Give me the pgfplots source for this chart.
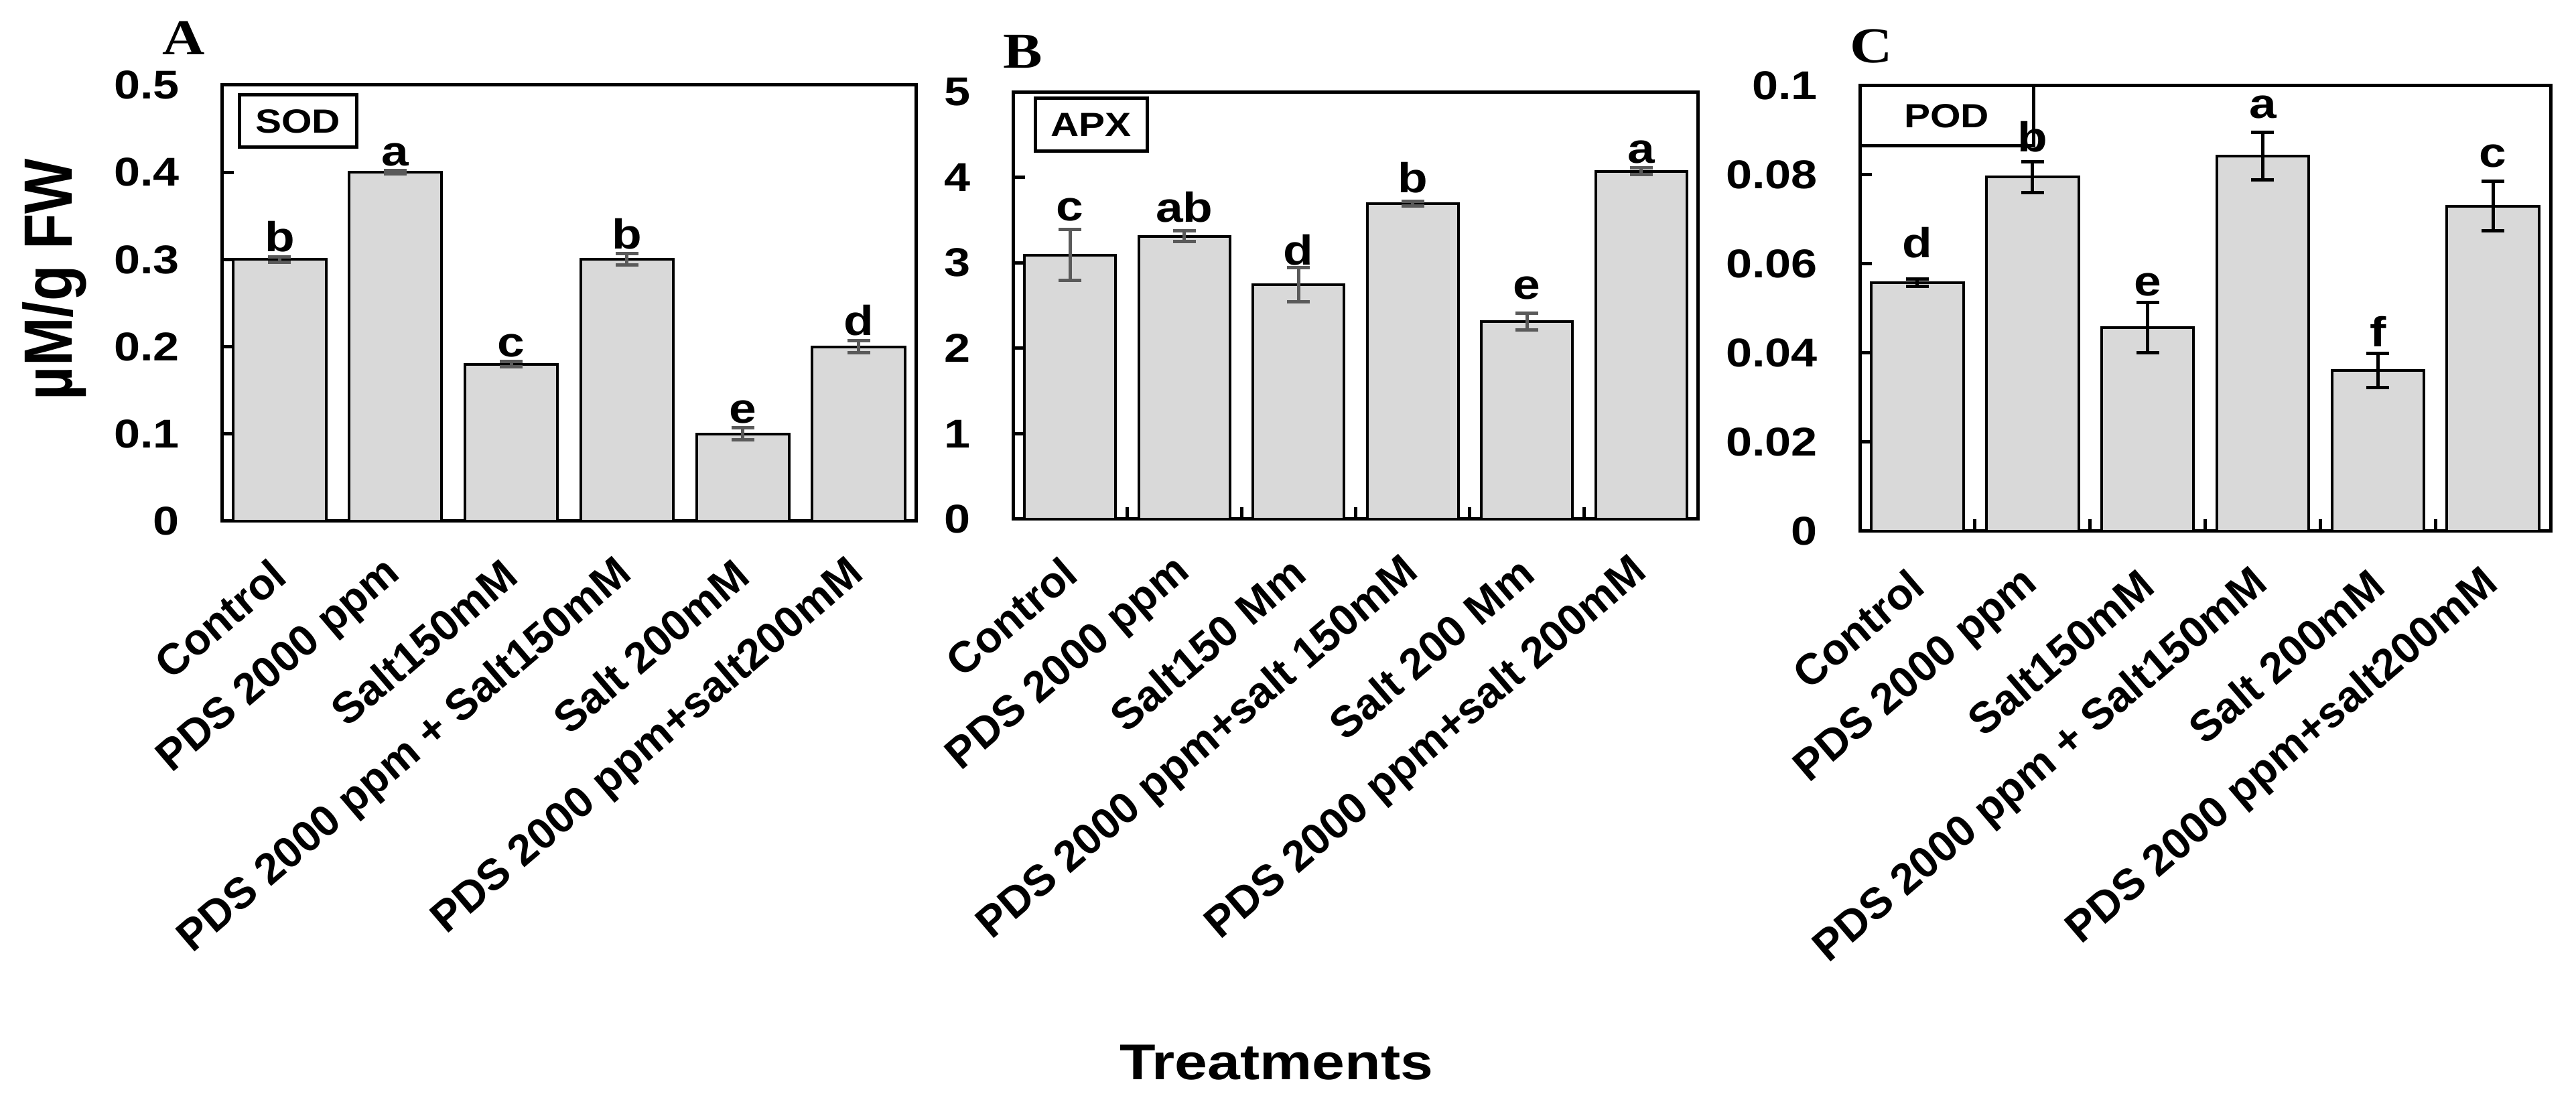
\documentclass[border=0pt]{standalone}
\usepackage{pgfplots}
\pgfplotsset{compat=1.18}
\usepackage{fontspec}
\setmainfont{Liberation Sans}[FakeStretch=1.17]
\newfontfamily\rotfont{Liberation Sans}
\newfontfamily\ylabfont{Liberation Sans}[FakeStretch=0.855]
\newfontfamily\letterfont{Liberation Serif}[FakeStretch=1.17]
\definecolor{barfill}{HTML}{D9D9D9}
\definecolor{errgray}{HTML}{5A5A5A}

\pgfplotsset{
  panel/.style={
    scale only axis,
    anchor=south west,
    clip=false,
    xmin=-0.5, xmax=5.5, ymin=0,
    axis line style={line width=1pt},
    tick align=inside,
    xtick pos=bottom, ytick pos=left,
    major tick length=3.6pt,
    tick style={line width=1pt, black},
    xtick={-0.5,0.5,1.5,2.5,3.5,4.5},
    yticklabel style={font=\bfseries\fontsize{12}{12}\selectfont, inner sep=0pt, xshift=-12.4pt, anchor=east},
    xticklabel style={xshift=17.2pt, yshift=-14pt, rotate=40.5, anchor=east, inner sep=0pt,
      font=\rotfont\bfseries\fontsize{13}{13}\selectfont},
  },
  bars/.style={ybar, bar width=0.8, bar shift=0pt, fill=barfill, draw=black, line width=0.8pt,
    error bars/.cd, y dir=both, y explicit,
    error bar style={line width=1pt, #1},
    error mark options={rotate=90, mark size=3.4pt, line width=1pt, #1}},
  letters/.style={draw=none, mark=none, point meta=explicit symbolic, nodes near coords,
    every node near coord/.append style={anchor=base, yshift=#1, inner sep=0pt, text=black,
      font=\bfseries\fontsize{12.5}{12.5}\selectfont}},
}

\begin{document}
\begin{tikzpicture}
\path[use as bounding box] (0pt,0pt) rectangle (769pt,328.4pt);

% Panel A
\begin{axis}[panel, at={(66.2pt,172.8pt)}, width=207.4pt, height=130.2pt,
  ymax=0.5, ytick={0,0.1,0.2,0.3,0.4,0.5}, yticklabels={0,0.1,0.2,0.3,0.4,0.5},
  xtick style={draw=none},
  xticklabels={Control, PDS 2000 ppm, Salt150mM, PDS 2000 ppm + Salt150mM, Salt 200mM, PDS 2000 ppm+salt200mM}]
\addplot[bars=errgray] coordinates {
  (0,0.300) +- (0,0.003)
  (1,0.400) +- (0,0.002)
  (2,0.180) +- (0,0.003)
  (3,0.300) +- (0,0.0065)
  (4,0.100) +- (0,0.007)
  (5,0.200) +- (0,0.007)
};
\addplot[letters=1.5pt] coordinates {
  (0,0.303) [b]
  (1,0.402) [a]
  (2,0.183) [c]
  (3,0.3065) [b]
  (4,0.107) [e]
  (5,0.207) [d]
};
\end{axis}

% Panel B
\begin{axis}[panel, at={(302.4pt,173.4pt)}, width=204.6pt, height=127.6pt,
  ymax=5, ytick={0,1,2,3,4,5}, yticklabels={0,1,2,3,4,5},
  xticklabels={Control, PDS 2000 ppm, Salt150 Mm, PDS 2000 ppm+salt 150mM, Salt 200 Mm, PDS 2000 ppm+salt 200mM}]
\addplot[bars=errgray] coordinates {
  (0,3.09) +- (0,0.30)
  (1,3.31) +- (0,0.06)
  (2,2.74) +- (0,0.20)
  (3,3.69) +- (0,0.03)
  (4,2.31) +- (0,0.10)
  (5,4.07) +- (0,0.04)
};
\addplot[letters=2.6pt] coordinates {
  (0,3.39) [c]
  (1,3.37) [ab]
  (2,2.87) [d]
  (3,3.72) [b]
  (4,2.47) [e]
  (5,4.06) [a]
};
\end{axis}

% Panel C
\begin{axis}[panel, at={(555.2pt,169.8pt)}, width=206.2pt, height=133pt,
  ymax=0.1, ytick={0,0.02,0.04,0.06,0.08,0.1}, yticklabels={0,0.02,0.04,0.06,0.08,0.1},
  xticklabels={Control, PDS 2000 ppm, Salt150mM, PDS 2000 ppm + Salt150mM, Salt 200mM, PDS 2000 ppm+salt200mM}]
\addplot[bars=black] coordinates {
  (0,0.0558) +- (0,0.0008)
  (1,0.0795) +- (0,0.0035)
  (2,0.0457) +- (0,0.0056)
  (3,0.0842) +- (0,0.0054)
  (4,0.0361) +- (0,0.0038)
  (5,0.0730) +- (0,0.0055)
};
\addplot[letters=3pt] coordinates {
  (0,0.0591) [d]
  (1,0.0830) [b]
  (2,0.0506) [e]
  (3,0.0905) [a]
  (4,0.0392) [f]
  (5,0.0794) [c]
};
\end{axis}

% Panel letters
\node[font=\letterfont\bfseries\fontsize{15}{15}\selectfont, inner sep=0pt] at (54.8pt,317pt) {A};
\node[font=\letterfont\bfseries\fontsize{15}{15}\selectfont, inner sep=0pt] at (305.4pt,313pt) {B};
\node[font=\letterfont\bfseries\fontsize{15}{15}\selectfont, inner sep=0pt] at (558.6pt,314.6pt) {C};

% Enzyme boxes
\node[draw, line width=1pt, minimum width=35pt, minimum height=15.6pt, inner sep=0pt,
  font=\bfseries\fontsize{10}{10}\selectfont] at (88.9pt,292.2pt) {SOD};
\node[draw, line width=1pt, minimum width=33.4pt, minimum height=15.8pt, inner sep=0pt,
  font=\bfseries\fontsize{10}{10}\selectfont] at (325.7pt,291.1pt) {APX};
\node[draw, line width=1pt, minimum width=51.8pt, minimum height=18pt, inner sep=0pt,
  font=\bfseries\fontsize{10}{10}\selectfont] at (581.1pt,293.8pt) {POD};

% Axis titles
\node[rotate=90, anchor=base, inner sep=0pt, font=\ylabfont\bfseries\fontsize{20.4}{20.4}\selectfont]
  at (21.6pt,245pt) {µM/g FW};
\node[anchor=base west, inner sep=0pt, font=\bfseries\fontsize{15}{15}\selectfont]
  at (334pt,6pt) {Treatments};
\end{tikzpicture}
\end{document}
